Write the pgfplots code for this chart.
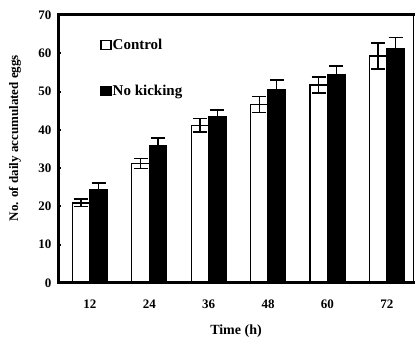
\documentclass[border=0pt]{standalone}
\usepackage{fontspec}
\setmainfont{Liberation Serif}
\usepackage{pgfplots}
\pgfplotsset{compat=1.18}
\begin{document}
\begin{tikzpicture}
\begin{axis}[
  scale only axis, width=354pt, height=268pt,
  ymin=0, ymax=70, ytick={0,10,...,70},
  xmin=-0.52, xmax=5.44,
  xtick={0,1,2,3,4,5}, xticklabels={12,24,36,48,60,72},
  ytick pos=left,
  ybar=0pt, bar width=17.5pt,
  /pgf/number format/assume math mode=true,
  tick label style={font=\fontsize{13}{15}\selectfont\bfseries},
  x tick label style={yshift=-13pt},
  y tick label style={xshift=-4pt},
  x tick style={draw=none},
  y tick style={line width=2pt, black},
  major tick length=2.5pt,
  tick align=inside,
  axis line style={line width=0.8pt},
  xlabel={Time (h)}, ylabel={No. of daily accumulated eggs},
  xlabel style={at={(axis description cs:0.5,-0.179)}, anchor=center, font=\fontsize{14}{16}\selectfont\bfseries},
  ylabel style={at={(axis description cs:-0.1243,0.541)}, anchor=center, font=\fontsize{13}{15}\selectfont\bfseries},
  legend style={draw=none, fill=none, at={(axis description cs:0.1158,0.915)}, anchor=north west,
    row sep=32pt, font=\fontsize{15}{17}\selectfont\bfseries, inner sep=0pt,
    nodes={inner sep=1pt}},
  legend cell align=left,
  legend image code/.code={\draw[#1, line width=1.5pt] (0pt,-4.5pt) rectangle (10pt,4.5pt);},
  clip=false,
]
\addplot[fill=white, draw=black, line width=1.3pt,
  error bars/.cd, y dir=both, y explicit,
  error bar style={line width=1.3pt, black},
  error mark options={rotate=90, mark size=7pt, line width=1.3pt, black}]
  coordinates {(0,20.9) +- (0,1.0) (1,31.2) +- (0,1.3) (2,41.2) +- (0,1.8) (3,46.7) +- (0,2.1) (4,51.7) +- (0,2.1) (5,59.3) +- (0,3.4)};
\addplot[fill=black, draw=black, line width=1.3pt,
  error bars/.cd, y dir=plus, y explicit,
  error bar style={line width=1.3pt, black},
  error mark options={rotate=90, mark size=7pt, line width=1.3pt, black}]
  coordinates {(0,24.3) +- (0,1.8) (1,35.9) +- (0,2.0) (2,43.4) +- (0,1.8) (3,50.6) +- (0,2.4) (4,54.3) +- (0,2.4) (5,61.1) +- (0,3.1)};
\legend{Control, No kicking}
\draw[line width=3pt, line cap=rect] (rel axis cs:0,0) -- (rel axis cs:0,1) -- (rel axis cs:1,1);
\draw[line width=3pt, line cap=rect] (rel axis cs:0,0) -- (rel axis cs:1,0);
\coordinate (A) at (rel axis cs:0,0);
\coordinate (B) at (rel axis cs:1,1);
\end{axis}
\pgfresetboundingbox
\path[use as bounding box] ([shift={(-59pt,-59pt)}]A) rectangle ([shift={(2pt,15pt)}]B);
\end{tikzpicture}
\end{document}
